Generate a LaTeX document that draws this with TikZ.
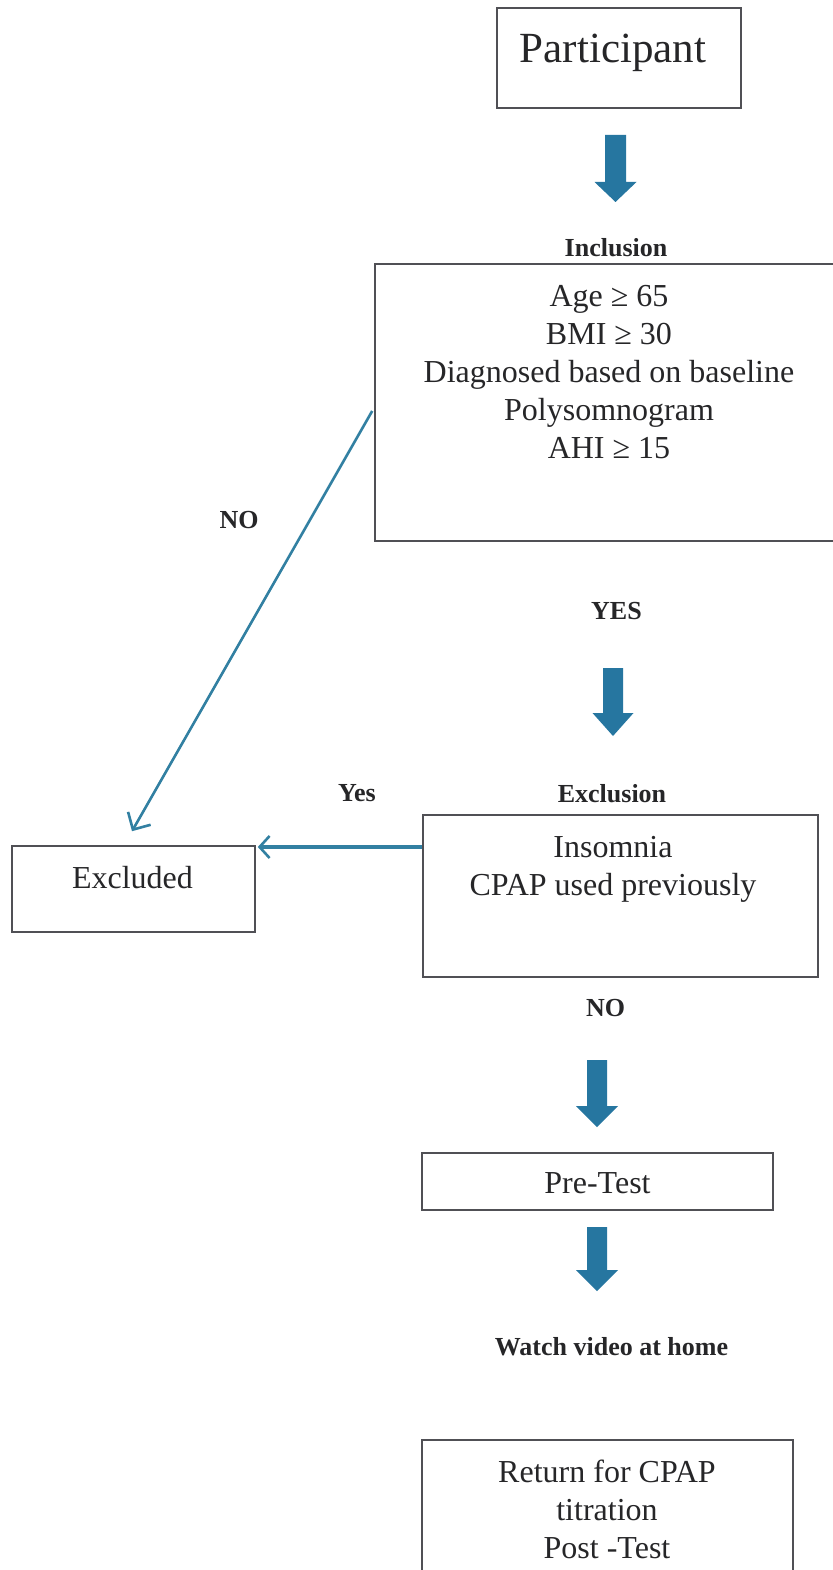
\documentclass[tikz,border=0pt]{standalone}
\usepackage{fontspec}
\setmainfont{Liberation Serif}
\usetikzlibrary{arrows.meta,calc}
\definecolor{arrowblue}{RGB}{38,118,160}
\definecolor{linkblue}{RGB}{50,128,162}
\definecolor{boxline}{RGB}{80,80,85}
\definecolor{textcol}{RGB}{38,38,40}
\newcommand\blockdown[6]{% xc, top, headstart, tip, shaft half, head half
  \fill[arrowblue] (#1-#5,#2) -- (#1+#5,#2) -- (#1+#5,#3) -- (#1+#6,#3) -- (#1,#4) -- (#1-#6,#3) -- (#1-#5,#3) -- cycle;}
\newcommand\lines[1]{\setlength{\tabcolsep}{0pt}\begin{tabular}[t]{c}#1\end{tabular}}
\tikzset{
  boxn/.style={draw=boxline, line width=1.6pt, inner sep=0pt},
  txt/.style={inner sep=0pt, anchor=base, text=textcol, font=\fontsize{32}{38}\selectfont},
  lbl/.style={inner sep=0pt, anchor=base, text=textcol, font=\bfseries\fontsize{26}{30}\selectfont},
  conn/.style={draw=linkblue, line width=2.6pt, -{Straight Barb[length=13pt,width=26pt,line width=2.6pt]}}
}
\begin{document}
\begin{tikzpicture}[x=1pt,y=-1pt]
\useasboundingbox (0,0) rectangle (832,1570);
\fill[white] (0,0) rectangle (832,1570);

% boxes
\node[boxn, minimum width=244pt, minimum height=100pt] (part) at (619,58) {};
\node[boxn, minimum width=465pt, minimum height=277pt] (incl) at (607.5,402.5) {};
\node[boxn, minimum width=243pt, minimum height=86pt] (excl) at (133.5,889) {};
\node[boxn, minimum width=395pt, minimum height=162pt] (exbox) at (620.5,896) {};
\node[boxn, minimum width=351pt, minimum height=57pt] (pre) at (597.5,1181.5) {};
\node[boxn, minimum width=371pt, minimum height=160pt] (ret) at (607.5,1520) {};

% texts
\node[txt, font=\fontsize{43}{50}\selectfont] (tpart) at (613,63) {Participant};
\node[lbl] (tincl) at (616,256) {Inclusion};
\node[txt] (tincltext) at (609,306) {\lines{Age ≥ 65\\BMI ≥ 30\\Diagnosed based on baseline\\Polysomnogram\\AHI ≥ 15}};
\node[lbl] (tno1) at (239,528) {NO};
\node[lbl] (tyes1) at (616.5,619) {YES};
\node[lbl] (tyes2) at (357,801) {Yes};
\node[lbl] (texcl) at (612,802) {Exclusion};
\node[txt] (texcltext) at (613,857) {\lines{Insomnia\\CPAP used previously}};
\node[txt] (texcluded) at (132.5,888) {Excluded};
\node[lbl] (tno2) at (605.5,1016) {NO};
\node[txt] (tpre) at (597.5,1193) {Pre-Test};
\node[lbl] (twatch) at (611.5,1355) {Watch video at home};
\node[txt] (tret) at (607,1482) {\lines{Return for CPAP\\titration\\Post -Test}};

% block arrows
\blockdown{615.5}{135}{182}{202}{10.5}{21}
\blockdown{613}{668}{713}{736}{10}{20.5}
\blockdown{597}{1060}{1106}{1127}{10}{21}
\blockdown{597}{1227}{1270}{1291}{10}{21}

% connectors
\draw[conn] ($(incl.west)+(-2,8.5)$) -- ($(excl.north)+(-1.5,-14)$);
\draw[conn, line width=3.4pt, -{Straight Barb[length=10pt,width=22pt,line width=2.6pt]}] ($(exbox.west)+(0,-49)$) -- ($(excl.east)+(2,-42)$);
\end{tikzpicture}
\end{document}
